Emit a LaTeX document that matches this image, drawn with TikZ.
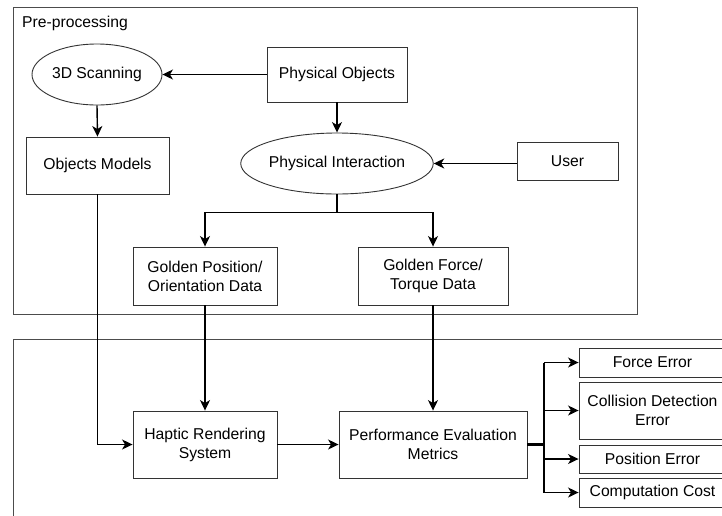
\documentclass[tikz,border=0pt]{standalone}
\usepackage{fontspec}
\setmainfont{Liberation Sans}
\usetikzlibrary{shapes.geometric,arrows.meta}
\begin{document}
\begin{tikzpicture}[x=1pt,y=-1pt,
  font=\fontsize{15.7}{19}\selectfont,
  frame/.style={draw=black!70,line width=0.9pt},
  box/.style={draw=black!80,line width=0.9pt,inner sep=0pt,align=center,rectangle},
  ell/.style={draw=black!80,line width=0.9pt,inner sep=0pt,align=center,ellipse},
  arr/.style={line width=1.4pt,-{Stealth[length=10.5pt,width=10pt,inset=3pt]}},
  ln/.style={line width=1.4pt}
]
\useasboundingbox (0,0) rectangle (722,515);
\clip (0,0) rectangle (722,515);
% frames
\draw[frame] (13,7) rectangle (637,314);
\draw[frame] (13,339) rectangle (740,540);
\node[anchor=base west,inner sep=0pt] (pre) at (22,27.5) {Pre-processing};
% top nodes
\node[ell,minimum width=130pt,minimum height=61pt] (scan) at (97,74.5) {3D Scanning};
\node[box,minimum width=140pt,minimum height=55pt] (po) at (337,74.5) {Physical Objects};
\node[box,minimum width=143pt,minimum height=57pt] (om) at (97.5,165.5) {Objects Models};
\node[ell,minimum width=192pt,minimum height=61pt] (pi) at (337,163.5) {Physical Interaction};
\node[box,minimum width=101pt,minimum height=38pt] (user) at (567.5,161.5) {User};
\node[box,minimum width=144pt,minimum height=58pt] (gp) at (205,276) {Golden Position/\\Orientation Data};
\node[box,minimum width=150pt,minimum height=58pt] (gf) at (433,276) {Golden Force/\\Torque Data};
% bottom nodes
\node[box,minimum width=144pt,minimum height=67pt] (hr) at (205,444.5) {Haptic Rendering\\System};
\node[box,minimum width=188pt,minimum height=67pt] (pem) at (433,444.5) {Performance Evaluation\\Metrics};
\node[box,minimum width=147pt,minimum height=29pt] (fe) at (652.5,362.5) {Force Error};
\node[box,minimum width=147pt,minimum height=57pt] (cd) at (652.5,410.5) {Collision Detection\\Error};
\node[box,minimum width=147pt,minimum height=28pt] (pe) at (652.5,459) {Position Error};
\node[box,minimum width=147pt,minimum height=29pt] (cc) at (652.5,492.5) {Computation Cost};
% connectors
\draw[arr] (po.west) -- (scan.east);
\draw[arr] (scan.south) -- (om.north);
\draw[arr] (po.south) -- (pi.north);
\draw[arr] (user.west|-pi.east) -- (pi.east);
\coordinate (br) at (337,212.5);
\draw[ln] (pi.south) -- (br);
\draw[arr] (br) -| (gp.north);
\draw[arr] (br) -| (gf.north);
\draw[arr] (gp.south) -- (hr.north);
\draw[arr] (gf.south) -- (pem.north);
\draw[arr] (om.south) |- (hr.west);
\draw[arr] (hr.east) -- (pem.west);
\coordinate (hub) at (544,444.5);
\draw[line width=2.4pt] (pem.east) -- (hub);
\draw[ln] (hub|-fe.west) -- (hub|-cc.west);
\draw[arr] (hub|-fe.west) -- (fe.west);
\draw[arr] (hub|-cd.west) -- (cd.west);
\draw[arr] (hub|-pe.west) -- (pe.west);
\draw[arr] (hub|-cc.west) -- (cc.west);
\end{tikzpicture}
\end{document}
